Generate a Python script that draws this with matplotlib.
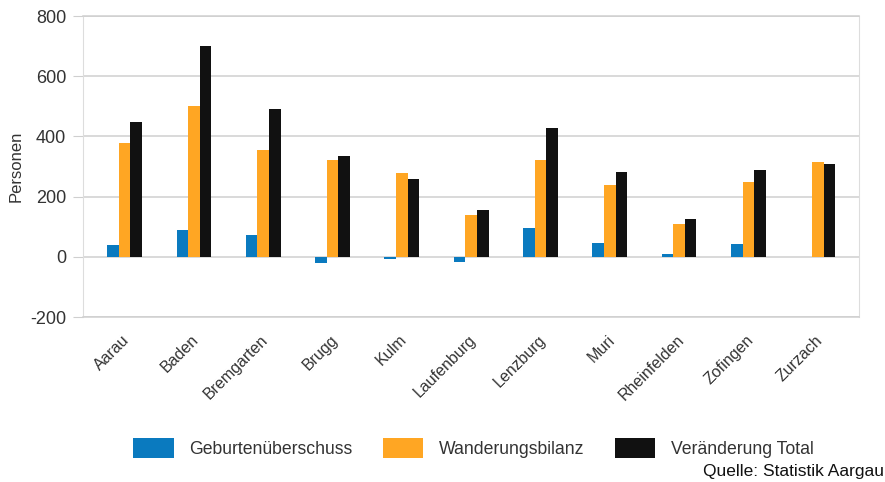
import matplotlib
matplotlib.use('Agg')
import matplotlib.pyplot as plt
import matplotlib.transforms as mtransforms
import numpy as np

bezirke = ['Aarau', 'Baden', 'Bremgarten', 'Brugg', 'Kulm', 'Laufenburg',
           'Lenzburg', 'Muri', 'Rheinfelden', 'Zofingen', 'Zurzach']
geburten = [40, 88, 73, -22, -8, -18, 95, 46, 10, 41, 1]
wanderung = [378, 502, 354, 323, 278, 140, 320, 237, 110, 250, 316]
total = [449, 700, 492, 334, 257, 156, 429, 282, 124, 290, 309]

series_names = ['Geburtenüberschuss', 'Wanderungsbilanz', 'Veränderung Total']
colors = ['#0a7abf', '#ffa623', '#111111']

plt.rcParams['font.family'] = ['Liberation Sans', 'DejaVu Sans']
plt.rcParams['axes.unicode_minus'] = False

fig = plt.figure(figsize=(8.85, 4.82), dpi=100)
ax = fig.add_axes([0.0938, 0.3423, 0.971 - 0.0938, 0.9668 - 0.3423])

x = np.arange(len(bezirke))
w = 0.167
for k, vals in enumerate([geburten, wanderung, total]):
    ax.bar(x + (k - 1) * w, vals, width=w, color=colors[k],
           label=series_names[k], zorder=3)

ax.set_xlim(-0.6, 10.6)
ax.set_ylim(-200, 800)
ax.set_yticks(range(-200, 801, 200))
ax.yaxis.grid(True, color='#cfcfcf', linewidth=1.1, zorder=0)
for s in ['left', 'right']:
    ax.spines[s].set_color('#dddddd')
for s in ['top', 'bottom']:
    ax.spines[s].set_color('#cfcfcf')
    ax.spines[s].set_linewidth(1.1)

ax.tick_params(axis='y', length=7, color='#cfcfcf', labelsize=13,
               labelcolor='#333333', pad=5)
ax.tick_params(axis='x', length=0, labelsize=11.5, labelcolor='#333333', pad=11)
ax.set_xticks(x)
ax.set_xticklabels(bezirke, rotation=45, ha='right', va='top')
offset = mtransforms.ScaledTranslation(8 / 100, 0, fig.dpi_scale_trans)
for lab in ax.get_xticklabels():
    lab.set_transform(lab.get_transform() + offset)

ax.set_ylabel('Personen', fontsize=12, color='#333333', labelpad=5)

fig.legend(loc='center', bbox_to_anchor=(0.535, 0.0705), ncol=3,
           frameon=False, prop={'size': 12.7},
           handlelength=2.3, handleheight=1.4, handletextpad=0.9,
           columnspacing=1.7, labelcolor='#333333')

fig.text(0.999, 0.006, 'Quelle: Statistik Aargau', ha='right', va='bottom',
         fontsize=12.5, color='#111111')

fig.savefig('out.png', dpi=100)
